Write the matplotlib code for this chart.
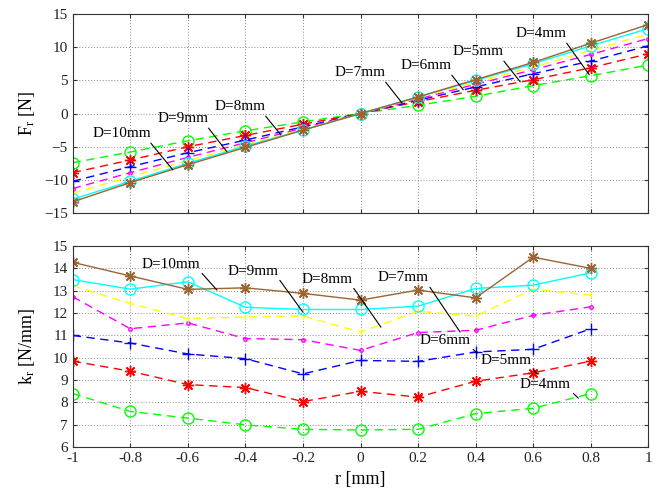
import numpy as np
import matplotlib
matplotlib.use("Agg")
import matplotlib.pyplot as plt

plt.rcParams['font.family'] = ['Liberation Serif', 'DejaVu Serif']
plt.rcParams['mathtext.fontset'] = 'custom'
plt.rcParams['mathtext.rm'] = 'Liberation Serif'
plt.rcParams['mathtext.it'] = 'Liberation Serif:italic'

# posicoes radiais
r_top = [-1, -0.8, -0.6, -0.4, -0.2, 0, 0.2, 0.4, 0.6, 0.8, 1]
r_bot = [-1, -0.8, -0.6, -0.4, -0.2, 0, 0.2, 0.4, 0.6, 0.8]

diametros = ["D=4mm", "D=5mm", "D=6mm", "D=7mm", "D=8mm", "D=9mm", "D=10mm"]

# forca radial Fr [N]
F_d4 = [-7.4, -5.8, -4.1, -2.6, -1.25, 0, 1.25, 2.6, 4.2, 5.7, 7.3]
F_d5 = [-8.9, -7.0, -5.0, -3.3, -1.6, 0, 1.8, 3.5, 5.1, 6.9, 9.0]
F_d6 = [-10.2, -8.0, -5.9, -4.0, -2.0, 0, 2.0, 4.0, 6.0, 7.9, 10.2]
F_d7 = [-11.3, -8.9, -6.6, -4.4, -2.2, 0, 2.2, 4.4, 6.6, 8.9, 11.3]
F_d8 = [-12.0, -9.5, -7.1, -4.7, -2.4, 0, 2.4, 4.7, 7.0, 9.5, 12.0]
F_d9 = [-12.9, -10.2, -7.5, -4.9, -2.5, 0, 2.5, 5.0, 7.5, 10.2, 12.8]
F_d10 = [-13.3, -10.4, -7.7, -5.1, -2.5, 0, 2.5, 5.1, 7.7, 10.6, 13.4]

# rigidez radial kr [N/mm]
k_d4 = [8.4, 7.6, 7.3, 7.0, 6.8, 6.77, 6.8, 7.5, 7.74, 8.4]
k_d5 = [9.85, 9.4, 8.8, 8.67, 8.04, 8.5, 8.24, 8.95, 9.33, 9.85]
k_d6 = [11.0, 10.66, 10.17, 9.96, 9.28, 9.88, 9.84, 10.26, 10.38, 11.3]
k_d7 = [12.73, 11.3, 11.56, 10.86, 10.81, 10.33, 11.13, 11.23, 11.9, 12.28]
k_d8 = [13.22, 12.43, 11.75, 11.83, 11.87, 11.15, 12.08, 11.87, 13.07, 12.8]
k_d9 = [13.5, 13.07, 13.4, 12.26, 12.16, 12.16, 12.31, 13.1, 13.25, 13.8]
k_d10 = [14.27, 13.66, 13.06, 13.13, 12.88, 12.58, 13.03, 12.68, 14.5, 14.0]

F_all = [F_d4, F_d5, F_d6, F_d7, F_d8, F_d9, F_d10]
k_all = [k_d4, k_d5, k_d6, k_d7, k_d8, k_d9, k_d10]

cores = ["#00ff00", "#ff0000", "#0000ff", "#ff00ff", "#ffff00", "#00ffff", "#9c6430"]
asterisco = (8, 2, 0)
marcadores = ["o", asterisco, "+", "o", "|", "o", asterisco]
tamanhos = [8, 8, 8, 2.5, 5, 8, 8]
estilos = ["--", "--", "--", "--", "--", "-", "-"]

# posicoes dos rotulos (texto, ponta da linha)
txt_top = [(0.628, 12.0), (0.409, 9.29), (0.228, 7.18), (-0.002, 6.13), (-0.419, 1.01), (-0.617, -0.8), (-0.83, -3.06)]
pt_top = [(0.795, 5.83), (0.555, 4.77), (0.357, 3.57), (0.144, 1.61), (-0.277, -3.21), (-0.464, -5.77), (-0.652, -8.48)]
txt_bot = [(0.642, 8.82), (0.506, 9.89), (0.294, 10.79), (0.148, 13.57), (-0.117, 13.52), (-0.374, 13.88), (-0.659, 14.19)]
pt_bot = [(0.757, 8.19), (0.614, 9.27), (0.405, 10.21), (0.346, 11.15), (0.071, 11.37), (-0.2, 12.04), (-0.499, 13.03)]

fig = plt.figure(figsize=(6.67, 4.98), dpi=100)
ax1 = fig.add_axes([0.109, 0.572, 0.863, 0.400])
ax2 = fig.add_axes([0.109, 0.102, 0.863, 0.404])

for i in range(7):
    mfc = "none" if marcadores[i] == "o" else cores[i]
    tracos = (6, 4) if estilos[i] == "--" else (None, None)
    ax1.plot(r_top, F_all[i], linestyle=estilos[i], color=cores[i], lw=1.0,
             marker=marcadores[i], ms=tamanhos[i], mfc=mfc, mec=cores[i], dashes=tracos)
    ax2.plot(r_bot, k_all[i], linestyle=estilos[i], color=cores[i], lw=1.0,
             marker=marcadores[i], ms=tamanhos[i], mfc=mfc, mec=cores[i], dashes=tracos)

for i in range(7):
    ax1.annotate(diametros[i], xy=pt_top[i], xytext=txt_top[i], ha="center", va="center",
                 fontsize=11, arrowprops=dict(arrowstyle="-", color="black", lw=0.8,
                                              relpos=(0.95, 0.05), shrinkA=0, shrinkB=0))
    ax2.annotate(diametros[i], xy=pt_bot[i], xytext=txt_bot[i], ha="center", va="center",
                 fontsize=11, arrowprops=dict(arrowstyle="-", color="black", lw=0.8,
                                              relpos=(0.98, 0.05), shrinkA=0, shrinkB=0))

xt = [-1, -0.8, -0.6, -0.4, -0.2, 0, 0.2, 0.4, 0.6, 0.8, 1]
xl = ["-1", "-0.8", "-0.6", "-0.4", "-0.2", "0", "0.2", "0.4", "0.6", "0.8", "1"]

for ax in (ax1, ax2):
    ax.set_xlim(-1, 1)
    ax.set_xticks(xt)
    ax.grid(True, linestyle=(0, (1, 2)), color="#888888", lw=0.7)
    ax.tick_params(direction="in", top=True, right=True, labelsize=11, length=3,
                   colors="#333333", labelcolor="#222222")
    for s in ax.spines.values():
        s.set_linewidth(0.8)
        s.set_color("#333333")

ax1.set_ylim(-15, 15)
ax1.set_yticks([-15, -10, -5, 0, 5, 10, 15])
ax1.set_xticklabels([])
ax1.set_ylabel(r"F$_{\mathrm{r}}$ [N]", fontsize=13)

ax2.set_ylim(6, 15)
ax2.set_yticks(range(6, 16))
ax2.set_xticklabels(xl)
ax2.set_ylabel(r"k$_{\mathrm{r}}$ [N/mm]", fontsize=13)
ax2.set_xlabel("r [mm]", fontsize=13)

ax1.yaxis.set_label_coords(-0.062, 0.5)
ax2.yaxis.set_label_coords(-0.062, 0.5)

fig.savefig("out.png", dpi=100)
